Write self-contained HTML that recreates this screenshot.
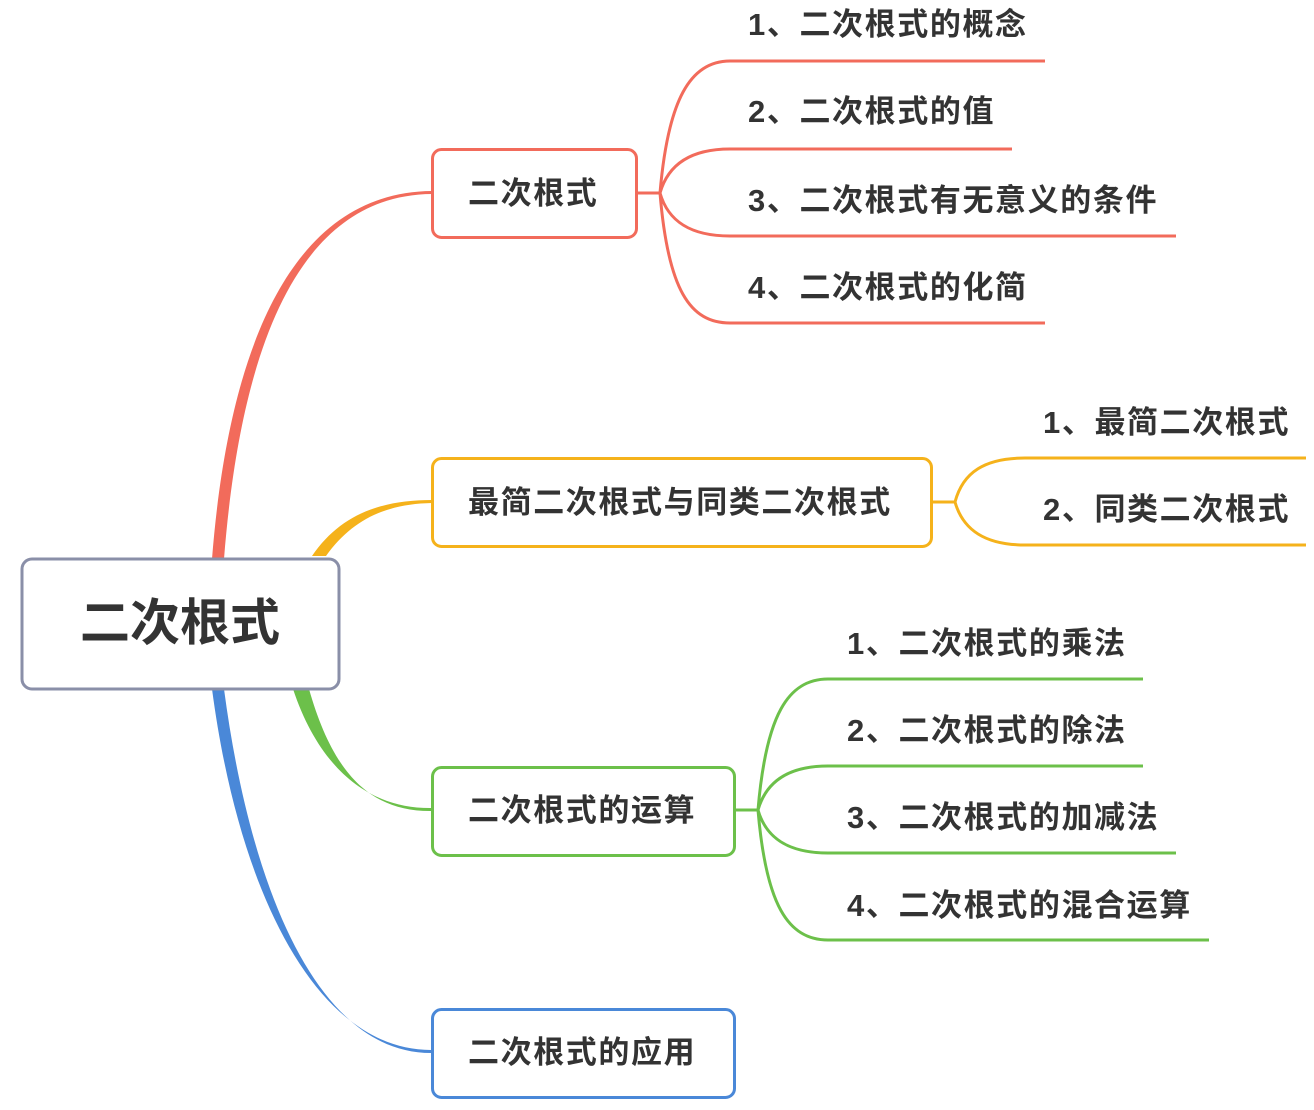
<!DOCTYPE html>
<html><head><meta charset="utf-8"><style>
html,body{margin:0;padding:0;background:#fff;}
svg{display:block}
text{font-family:"Liberation Sans","Noto Sans CJK SC",sans-serif;font-weight:bold;fill:#333;letter-spacing:1.6px;}
</style></head><body>
<svg width="1314" height="1110" viewBox="0 0 1314 1110" xmlns="http://www.w3.org/2000/svg">
<!-- main connectors -->
<path d="M212,559 C230,330 300,192 432,191 L432,194 C306,195 242,330 224,559 Z" fill="#f26b5b"/>
<path d="M312,556 C340,515 380,500 432,500 L432,503 C385,504 352,520 326,556 Z" fill="#f5b21b"/>
<path d="M293,689 C320,770 370,809 432,808 L432,811 C368,812 332,770 309,689 Z" fill="#6cc04a"/>
<path d="M212,689 C240,900 320,1051 432,1050 L432,1053 C322,1054 252,900 224,689 Z" fill="#4a88d8"/>

<!-- red subtree -->
<g fill="none" stroke="#f26b5b" stroke-width="3">
<path d="M637,193 L660,193"/>
<path d="M660,193 C668,100 690,61 730,61 L1045,61"/>
<path d="M660,193 C668,165 690,149 730,149 L1012,149"/>
<path d="M660,193 C668,221 690,236 730,236 L1176,236"/>
<path d="M660,193 C668,290 690,323 730,323 L1045,323"/>
</g>
<!-- orange subtree -->
<g fill="none" stroke="#f5b21b" stroke-width="3">
<path d="M932,502 L955,502"/>
<path d="M955,502 C963,472 985,458 1025,458 L1306,458"/>
<path d="M955,502 C963,530 985,545 1025,545 L1306,545"/>
</g>
<!-- green subtree -->
<g fill="none" stroke="#6cc04a" stroke-width="3">
<path d="M735,810 L758,810"/>
<path d="M758,810 C766,715 788,679 828,679 L1143,679"/>
<path d="M758,810 C766,782 788,766 828,766 L1143,766"/>
<path d="M758,810 C766,838 788,853 828,853 L1176,853"/>
<path d="M758,810 C766,905 788,940 828,940 L1209,940"/>
</g>

<!-- boxes -->
<rect x="22" y="559" width="317" height="130" rx="10" fill="#fff" stroke="#8a8fa8" stroke-width="3"/>
<text x="180" y="640" font-size="50" text-anchor="middle" style="letter-spacing:0">二次根式</text>

<rect x="432.5" y="149.5" width="204" height="88" rx="9" fill="#fff" stroke="#f26b5b" stroke-width="3"/>
<text x="468" y="204" font-size="31">二次根式</text>

<rect x="432.5" y="458.5" width="499" height="88" rx="9" fill="#fff" stroke="#f5b21b" stroke-width="3"/>
<text x="468" y="513" font-size="31">最简二次根式与同类二次根式</text>

<rect x="432.5" y="767.5" width="302" height="88" rx="9" fill="#fff" stroke="#6cc04a" stroke-width="3"/>
<text x="468" y="821" font-size="31">二次根式的运算</text>

<rect x="432.5" y="1009.5" width="302" height="88" rx="9" fill="#fff" stroke="#4a88d8" stroke-width="3"/>
<text x="468" y="1063" font-size="31">二次根式的应用</text>

<!-- leaf texts -->
<g font-size="31">
<text x="748" y="35">1、二次根式的概念</text>
<text x="748" y="122">2、二次根式的值</text>
<text x="748" y="211">3、二次根式有无意义的条件</text>
<text x="748" y="298">4、二次根式的化简</text>
<text x="1043" y="433">1、最简二次根式</text>
<text x="1043" y="520">2、同类二次根式</text>
<text x="847" y="654">1、二次根式的乘法</text>
<text x="847" y="741">2、二次根式的除法</text>
<text x="847" y="828">3、二次根式的加减法</text>
<text x="847" y="916">4、二次根式的混合运算</text>
</g>
</svg>
</body></html>
